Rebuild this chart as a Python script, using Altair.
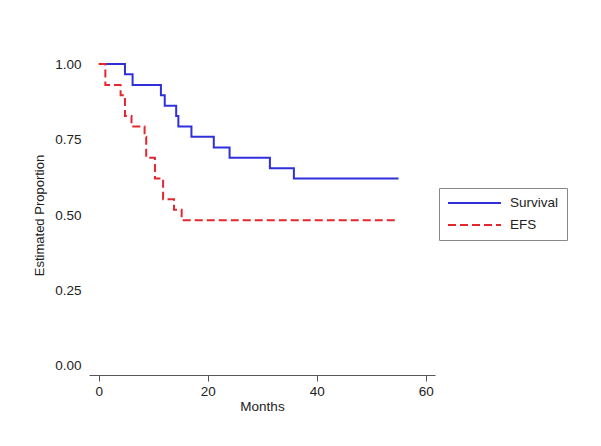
import altair as alt
import pandas as pd

# Kaplan-Meier style step curves
surv_months = [0, 4.8, 6.2, 11.4, 12.1, 14.2, 14.6, 17.0, 21.1, 24.0, 31.4, 35.8, 55.0]
surv_prop = [1.0, 0.966, 0.931, 0.897, 0.862, 0.828, 0.793, 0.759, 0.724, 0.690, 0.655, 0.621, 0.621]

efs_months = [0, 1.2, 4.0, 4.8, 6.0, 8.4, 8.7, 10.3, 11.8, 13.8, 15.2, 55.0]
efs_prop = [1.0, 0.931, 0.897, 0.828, 0.793, 0.759, 0.690, 0.621, 0.552, 0.517, 0.483, 0.483]

series = ["Survival", "EFS"]
x_ticks = [0, 20, 40, 60]
y_ticks = [0, 0.25, 0.5, 0.75, 1.0]

df = pd.concat([
    pd.DataFrame({"Months": surv_months, "Proportion": surv_prop, "Series": series[0], "order": range(len(surv_months))}),
    pd.DataFrame({"Months": efs_months, "Proportion": efs_prop, "Series": series[1], "order": range(len(efs_months))}),
])

FONT = "Liberation Sans"

legend = alt.Legend(title=None, orient="none", legendX=350, legendY=133,
                    padding=8, strokeColor="#888888", fillColor="white",
                    symbolType="stroke", symbolSize=2809, symbolStrokeWidth=2,
                    clipHeight=14, labelFontSize=13.5, labelOffset=8, rowPadding=8,
                    labelColor="#222222", labelFont=FONT)

chart = alt.Chart(df).mark_line(interpolate="step-after", strokeWidth=2).encode(
    x=alt.X("Months:Q",
            scale=alt.Scale(domain=[-1.8, 61.7], nice=False, zero=False),
            axis=alt.Axis(values=x_ticks, format="d", title="Months", grid=False,
                          tickSize=6, labelPadding=3, titlePadding=2,
                          labelFontSize=13.5, titleFontSize=13.5, titleFontWeight="normal",
                          domainColor="#555555", tickColor="#555555")),
    y=alt.Y("Proportion:Q",
            scale=alt.Scale(domain=[-0.03, 1.03], nice=False, zero=False),
            axis=alt.Axis(values=y_ticks, format=".2f", title="Estimated Proportion",
                          grid=False, domain=False, ticks=False, labelPadding=8,
                          labelFontSize=13.5, titleFontSize=13, titleFontWeight="normal",
                          titleAngle=270, titleX=-50, titleY=160,
                          titleAlign="center", titleBaseline="middle")),
    color=alt.Color("Series:N",
                    scale=alt.Scale(domain=series, range=["#2f2fdc", "#e5262f"]),
                    legend=legend),
    strokeDash=alt.StrokeDash("Series:N",
                              scale=alt.Scale(domain=series, range=[[1, 0], [8, 4]]),
                              legend=legend),
    order="order:Q",
).properties(
    width=346, height=320,
    background="white",
    autosize=alt.AutoSizeParams(type="none"),
    padding={"left": 81, "top": 47, "right": 158, "bottom": 63},
).configure_view(
    stroke=None
).configure_axis(
    labelFont=FONT, titleFont=FONT, labelColor="#222222", titleColor="#222222"
)

chart.save("out.html", embed_options={"renderer": "svg", "actions": False})
